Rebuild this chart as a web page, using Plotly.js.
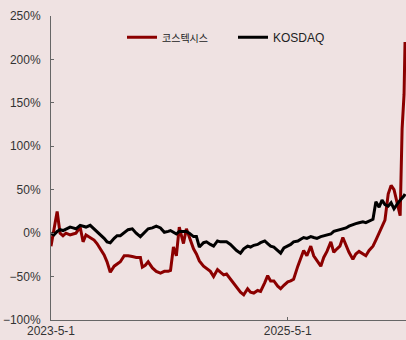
<!DOCTYPE html>
<html>
<head>
<meta charset="utf-8">
<script src="https://cdn.plot.ly/plotly-3.0.1.min.js"></script>
<style>html,body{margin:0;padding:0;background:#efe2e2;}#chart{width:406px;height:340px;}</style>
</head>
<body>
<div id="chart"></div>
<script>
const dates = [
"2023-05-01","2023-05-10","2023-05-20","2023-05-29","2023-06-07","2023-06-16","2023-06-29","2023-07-08","2023-07-17","2023-07-30",
"2023-08-08","2023-08-17","2023-08-30","2023-09-11","2023-09-20","2023-09-30","2023-10-12","2023-10-21","2023-10-31","2023-11-12",
"2023-11-21","2023-12-01","2023-12-13","2023-12-25","2024-01-07","2024-01-19","2024-02-01","2024-02-07","2024-02-16","2024-02-25",
"2024-03-09","2024-03-21","2024-04-03","2024-04-15","2024-04-27","2024-05-04","2024-05-13","2024-05-22","2024-05-31","2024-06-13",
"2024-06-22","2024-07-01","2024-07-14","2024-07-23","2024-08-01","2024-08-14","2024-08-23","2024-09-04","2024-09-14","2024-09-26",
"2024-10-05","2024-10-15","2024-10-24","2024-11-05","2024-11-15","2024-11-24","2024-12-06","2024-12-16","2024-12-28","2025-01-06",
"2025-01-16","2025-01-28","2025-02-06","2025-02-19","2025-02-28","2025-03-09","2025-03-19","2025-03-31","2025-04-09","2025-04-19",
"2025-05-01","2025-05-10","2025-05-19","2025-06-01","2025-06-10","2025-06-19","2025-06-29","2025-07-11","2025-07-20","2025-07-30",
"2025-08-11","2025-08-20","2025-08-30","2025-09-11","2025-09-20","2025-09-30","2025-10-09","2025-10-18","2025-10-28","2025-11-06",
"2025-11-18","2025-11-27","2025-12-07","2025-12-19","2025-12-28","2026-01-07","2026-01-19","2026-01-28","2026-02-07","2026-02-16",
"2026-02-25","2026-03-07","2026-03-16","2026-03-25","2026-03-31","2026-04-07","2026-04-13","2026-04-19","2026-04-25","2026-04-28"
];
const kostecsys = [
-15,5,25,0,-3,0,-2,-1,0,7,
-10,-2,-5,-8,-12,-18,-25,-33,-45,-38,
-36,-33,-26,-26,-27,-28,-28,-39,-37,-33,
-40,-44,-46,-44,-44,-43,-16,-26,7,-12,
5,-5,-18,-24,-32,-38,-41,-44,-50,-42,
-45,-48,-47,-53,-58,-63,-68,-71,-64,-68,
-69,-66,-67,-57,-49,-55,-55,-61,-64,-60,
-56,-55,-53,-38,-28,-20,-26,-15,-26,-32,
-38,-28,-21,-10,-22,-18,-15,-5,-15,-22,
-30,-24,-21,-24,-26,-20,-15,-8,0,8,
15,45,55,50,40,28,20,120,160,220
];
const kosdaq = [
0,-2,2,4,3,5,7,6,5,9,
8,7,9,5,2,-1,-6,-10,-11,-6,
-3,-3,1,4,5,0,-4,-2,2,5,
6,8,6,1,2,3,1,-1,2,2,
2,0,-4,-4,-16,-11,-10,-13,-15,-9,
-10,-10,-10,-13,-17,-20,-23,-18,-15,-16,
-14,-13,-11,-9,-12,-15,-16,-20,-23,-17,
-15,-13,-10,-9,-7,-5,-6,-4,-5,-6,
-4,-3,-2,-1,2,3,4,5,6,8,
10,11,12,13,12,14,16,36,30,38,
33,31,35,28,32,35,38,40,43,45
];
const seriesNames = ["코스텍시스", "KOSDAQ"];
const xTickVals = ["2023-05-01", "2025-05-01"];
const xTickText = ["2023-5-1", "2025-5-1"];
const yTickVals = [-100, -50, 0, 50, 100, 150, 200, 250];
const yTickText = ["\u2212100%", "\u221250%", "0%", "50%", "100%", "150%", "200%", "250%"];

const baseFont = "'Liberation Sans', Arial, 'Noto Sans CJK KR', sans-serif";

const traces = [
  {x: dates, y: kostecsys, type: "scatter", mode: "lines", name: '<span style="font-size:10px">' + seriesNames[0] + '</span>',
   line: {color: "#8b0000", width: 3}},
  {x: dates, y: kosdaq, type: "scatter", mode: "lines", name: seriesNames[1],
   line: {color: "#000000", width: 3}}
];

const layout = {
  width: 406, height: 340,
  paper_bgcolor: "#efe2e2", plot_bgcolor: "#efe2e2",
  margin: {l: 51, r: 0, t: 16, b: 20},
  font: {family: baseFont, size: 12, color: "#333333"},
  showlegend: true,
  legend: {orientation: "h", x: 0.2, xanchor: "left", y: 0.93, yanchor: "middle",
           entrywidth: 66, entrywidthmode: "pixels",
           bgcolor: "rgba(0,0,0,0)", font: {family: baseFont, size: 12, color: "#222222"}},
  xaxis: {type: "date", range: ["2023-05-01", "2026-05-01"], tickvals: xTickVals, ticktext: xTickText,
          showgrid: false, zeroline: false, showline: true, linecolor: "#666666", linewidth: 1,
          ticks: "inside", ticklen: 3, tickcolor: "#666666", tickfont: {family: baseFont, size: 12, color: "#333333"}},
  yaxis: {range: [-100, 250], tickvals: yTickVals, ticktext: yTickText,
          showgrid: false, zeroline: false, showline: true, linecolor: "#666666", linewidth: 1,
          ticks: "inside", ticklen: 3, tickcolor: "#666666", ticklabelstandoff: 7,
          tickfont: {family: baseFont, size: 12, color: "#333333"}}
};

Plotly.newPlot("chart", traces, layout, {displayModeBar: false, staticPlot: true});
</script>
</body>
</html>
